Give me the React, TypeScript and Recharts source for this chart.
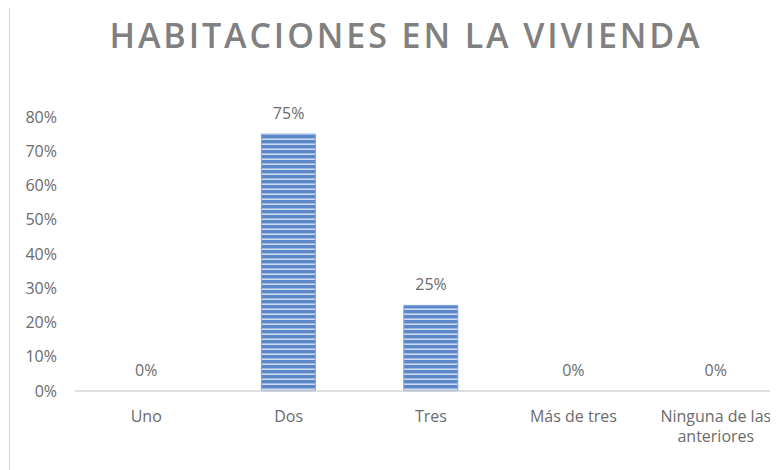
import React from "react";
import { ComposedChart, Bar, Line, XAxis, YAxis, LabelList } from "recharts";

const categories = ["Uno", "Dos", "Tres", "Más de tres", "Ninguna de las\nanteriores"];
const shares = [0, 0.75, 0.25, 0, 0];
const yTicks = [0, 0.1, 0.2, 0.3, 0.4, 0.5, 0.6, 0.7, 0.8];
const title = "HABITACIONES EN LA VIVIENDA";

const data = categories.map((c, i) => ({ name: c, value: shares[i] }));

const FONT = "'Open Sans', 'DejaVu Sans', sans-serif";
const TICK_COLOR = "#6b6b6b";

const pct = (v: number) => `${Math.round(v * 100)}%`;

const XTick = (props: any) => {
  const { x, y, payload } = props;
  const lines = String(payload.value).split("\n");
  return (
    <g transform={`translate(${x},${y})`}>
      <text textAnchor="middle" fill={TICK_COLOR} fontSize={16} fontFamily={FONT}>
        {lines.map((l, i) => (
          <tspan key={i} x={0} dy={i === 0 ? 23 : 20}>
            {l}
          </tspan>
        ))}
      </text>
    </g>
  );
};

export default function App() {
  return (
    <div style={{ marginTop: -4, marginLeft: 1, width: 769, height: 466, overflow: "hidden", position: "relative" }}>
      <svg width={0} height={0} style={{ position: "absolute" }}>
        <defs>
          <pattern id="stripes" patternUnits="userSpaceOnUse" width={8} height={5}>
            <rect x={0} y={0} width={8} height={5} fill="#5b86c8" />
            <rect x={0} y={3} width={8} height={1} fill="#9db8e3" />
            <rect x={0} y={4} width={8} height={1} fill="#cddbf1" />
          </pattern>
        </defs>
      </svg>
      <div style={{ width: 792, height: 500, borderTop: "1px solid #d9d9d9", borderLeft: "1px solid #d9d9d9", position: "relative" }}>
        <div
          style={{
            position: "absolute",
            left: 0,
            width: 792,
            top: 8,
            textAlign: "center",
            fontFamily: FONT,
            fontWeight: 600,
            fontSize: 34,
            letterSpacing: 2.9,
            color: "#808080",
            lineHeight: "44px",
          }}
        >
          {title}
        </div>
        <ComposedChart
          width={792}
          height={500}
          data={data}
          margin={{ top: 112, right: 15, left: 5, bottom: 84 }}
          barSize={54}
        >
          <XAxis
            dataKey="name"
            height={30}
            axisLine={{ stroke: "#d4d4d4", strokeWidth: 1.5 }}
            tickLine={false}
            tick={<XTick />}
            interval={0}
          />
          <YAxis
            width={60}
            domain={[0, 0.8]}
            ticks={yTicks}
            tickFormatter={pct}
            axisLine={false}
            tickLine={false}
            tickSize={6}
            tickMargin={12}
            tick={{ fill: TICK_COLOR, fontSize: 16, fontFamily: FONT }}
          />
          <Bar dataKey="value" fill="url(#stripes)" stroke="#7fa1d6" strokeWidth={1} isAnimationActive={false} />
          <Line
            dataKey="value"
            stroke="none"
            dot={false}
            activeDot={false}
            legendType="none"
            isAnimationActive={false}
          >
            <LabelList
              dataKey="value"
              position="top"
              offset={15}
              formatter={(v: any) => pct(Number(v))}
              style={{ fill: TICK_COLOR, fontSize: 16, fontFamily: FONT }}
            />
          </Line>
        </ComposedChart>
      </div>
    </div>
  );
}
